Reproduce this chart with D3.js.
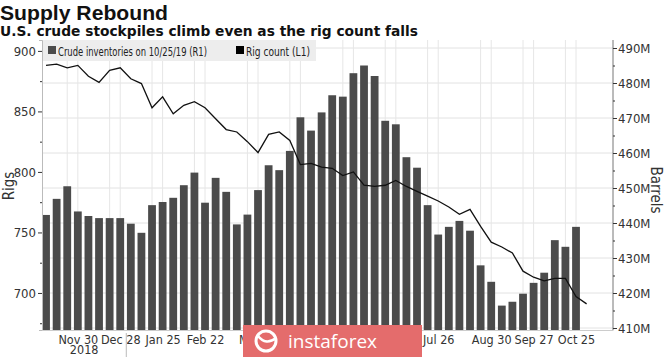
<!DOCTYPE html>
<html><head><meta charset="utf-8">
<script src="https://cdn.jsdelivr.net/npm/d3@7"></script>
<style>body{margin:0;background:#fff}svg{display:block}</style>
</head><body>
<script>
// ---- data ----
const weeks = ["2018-11-09","2018-11-16","2018-11-23","2018-11-30","2018-12-07","2018-12-14","2018-12-21","2018-12-28",
"2019-01-04","2019-01-11","2019-01-18","2019-01-25","2019-02-01","2019-02-08","2019-02-15","2019-02-22",
"2019-03-01","2019-03-08","2019-03-15","2019-03-22","2019-03-29","2019-04-05","2019-04-12","2019-04-19","2019-04-26",
"2019-05-03","2019-05-10","2019-05-17","2019-05-24","2019-05-31","2019-06-07","2019-06-14","2019-06-21","2019-06-28",
"2019-07-05","2019-07-12","2019-07-19","2019-07-26","2019-08-02","2019-08-09","2019-08-16","2019-08-23","2019-08-30",
"2019-09-06","2019-09-13","2019-09-20","2019-09-27","2019-10-04","2019-10-11","2019-10-18","2019-10-25","2019-11-01"];
const inventories = [442.3,446.9,450.5,443.3,442.0,441.4,441.4,441.4,439.8,437.2,445.1,446.0,447.2,450.8,454.4,445.8,
452.9,448.9,439.6,442.4,449.4,456.5,455.1,460.6,470.2,466.4,471.6,476.5,476.1,482.8,485.0,482.0,469.2,468.2,
458.8,455.8,445.1,436.7,438.9,440.6,437.8,427.9,423.2,416.4,417.5,419.8,422.9,425.8,435.1,433.2,438.9];
const rigs = [888,889,886,888,879,874,884,886,877,873,853,862,848,855,858,853,844,835,833,825,816,831,833,826,806,807,
804,803,797,800,789,788,789,793,788,784,780,776,771,765,769,755,742,738,733,718,713,710,712,712,697,691];
const tickDates = ["2018-11-30","2018-12-28","2019-01-25","2019-02-22","2019-03-29","2019-04-26","2019-05-31",
"2019-06-28","2019-07-26","2019-08-30","2019-09-27","2019-10-25"];
const tickLabels = ["Nov 30","Dec 28","Jan 25","Feb 22","Mar 29","Apr 26","May 31","Jun 28","Jul 26","Aug 30","Sep 27","Oct 25"];
const years = ["2018","2019"];
const rigTicks = [700,750,800,850,900];
const barrelTicks = [410,420,430,440,450,460,470,480,490];
const legendLabels = ["Crude inventories on 10/25/19 (R1)","Rig count (L1)"];

// ---- layout ----
const W = 665, H = 357;
const L = 42, R = 613, T = 40, B = 330;
const parse = d3.utcParse("%Y-%m-%d");
const dates = weeks.map(parse);
const wk = 7*864e5;
const x = d3.scaleUtc()
  .domain([new Date(+dates[0] - 0.38*wk), new Date(+dates[0] + 53.49*wk)])
  .range([L, R]);
const yL = d3.scaleLinear().domain([669.4, 909.0]).range([B, T]);
const yR = d3.scaleLinear().domain([409.43, 491.71]).range([B, 48 - (491.71-490)*3.5]);

const svg = d3.select("body").append("svg").attr("width", W).attr("height", H);
const FONT = "'DejaVu Sans Condensed','DejaVu Sans',sans-serif";

// titles
svg.append("text").attr("x", 0).attr("y", 20).text("Supply Rebound")
  .attr("font-family", "'Liberation Sans',Arial,sans-serif").attr("font-weight", "bold")
  .attr("font-size", 21).attr("fill", "#111").attr("textLength", 168).attr("lengthAdjust","spacingAndGlyphs");
svg.append("text").attr("x", 0).attr("y", 36).text("U.S. crude stockpiles climb even as the rig count falls")
  .attr("font-family", "'DejaVu Sans',sans-serif").attr("font-weight", "bold")
  .attr("font-size", 14).attr("fill", "#111").attr("textLength", 418).attr("lengthAdjust","spacingAndGlyphs");

// gridlines
const g = svg.append("g");
g.selectAll("line.h").data(barrelTicks).join("line")
  .attr("x1", L).attr("x2", R).attr("y1", d => yR(d)).attr("y2", d => yR(d))
  .attr("stroke", "#e2e2e2").attr("stroke-width", 1);
const tDates = tickDates.map(parse);
const gridDates = tDates.concat(tDates.map(d => new Date(+d - wk)));
g.selectAll("line.v").data(gridDates).join("line")
  .attr("x1", d => x(d)).attr("x2", d => x(d)).attr("y1", T).attr("y2", B)
  .attr("stroke", "#e6e6e6").attr("stroke-width", 1);

// bars
const bw = 7.8;
svg.append("g").selectAll("rect").data(inventories).join("rect")
  .attr("x", (d, i) => x(dates[i]) - bw/2).attr("width", bw)
  .attr("y", d => yR(d)).attr("height", d => B - yR(d))
  .attr("fill", "#4b4b4b");

// line
svg.append("path").datum(rigs)
  .attr("d", d3.line().x((d, i) => x(dates[i])).y(d => yL(d)))
  .attr("fill", "none").attr("stroke", "#111").attr("stroke-width", 1.3);

// legend
const lg = svg.append("g");
lg.append("rect").attr("x", L).attr("y", T).attr("width", 274).attr("height", 21).attr("fill", "#ededed");
const lx = [48, 236];
const lw = [149, 64];
lg.selectAll("rect.m").data(legendLabels).join("rect")
  .attr("x", (d, i) => lx[i]).attr("y", 46).attr("width", 8).attr("height", 8)
  .attr("fill", (d, i) => i ? "#000" : "#4b4b4b");
lg.selectAll("text").data(legendLabels).join("text")
  .attr("x", (d, i) => lx[i] + 10).attr("y", 55.5).text(d => d)
  .attr("textLength", (d, i) => lw[i]).attr("lengthAdjust", "spacingAndGlyphs")
  .attr("font-family", FONT).attr("font-size", 13).attr("fill", "#222");

// left axis
const axL = d3.axisLeft(yL).tickValues(d3.range(675, 901, 25)).tickSize(3)
  .tickFormat(d => rigTicks.includes(d) ? d : "");
const gl = svg.append("g").attr("transform", `translate(${L},0)`).call(axL);
gl.select(".domain").attr("stroke", "#bbb");
gl.selectAll(".tick line").attr("stroke", "#333").attr("x2", d => rigTicks.includes(d) ? -4 : -2);
gl.selectAll(".tick text").attr("font-family", FONT).attr("font-size", 13).attr("fill", "#333").attr("x", -6);

// right axis
const axR = d3.axisRight(yR).tickValues(d3.range(410, 491, 5)).tickSize(3)
  .tickFormat(d => barrelTicks.includes(d) ? d + "M" : "");
const gr = svg.append("g").attr("transform", `translate(${R},0)`).call(axR);
gr.select(".domain").attr("stroke", "#777").attr("d", `M0,${T}V${B}`);
gr.selectAll(".tick line").attr("stroke", "#333").attr("x2", d => barrelTicks.includes(d) ? 4 : 2);
gr.selectAll(".tick text").attr("font-family", FONT).attr("font-size", 13).attr("fill", "#333").attr("x", 5);

// bottom axis
const axB = d3.axisBottom(x).tickValues(tDates).tickSize(0)
  .tickFormat((d, i) => tickLabels[i]);
const gb = svg.append("g").attr("transform", `translate(0,${B})`).call(axB);
gb.select(".domain").attr("stroke", "#ccc");
gb.selectAll(".tick text").attr("font-family", FONT).attr("font-size", 12.5).attr("fill", "#333").attr("dy", "0.85em");
const yb = parse("2019-01-01");
svg.append("line").attr("x1", x(yb)).attr("x2", x(yb)).attr("y1", B + 3).attr("y2", H)
  .attr("stroke", "#bbb");
const yearPos = [(L + x(yb))/2, (x(yb) + R)/2];
svg.selectAll("text.yr").data(years).join("text").attr("class", "yr")
  .attr("x", (d, i) => yearPos[i]).attr("y", 354).attr("text-anchor", "middle").text(d => d)
  .attr("font-family", FONT).attr("font-size", 12.5).attr("fill", "#333");

// axis titles
svg.append("text").attr("transform", `translate(14,186) rotate(-90)`).attr("text-anchor", "middle")
  .text("Rigs").attr("font-family", FONT).attr("font-size", 15).attr("fill", "#333");
svg.append("text").attr("transform", `translate(651,190) rotate(90)`).attr("text-anchor", "middle")
  .text("Barrels").attr("font-family", FONT).attr("font-size", 15).attr("fill", "#333");

// watermark overlay
const wm = svg.append("g");
wm.append("rect").attr("x", 243).attr("y", 325).attr("width", 179).attr("height", 32).attr("fill", "#e46c6c");
wm.append("circle").attr("cx", 266).attr("cy", 341).attr("r", 10).attr("fill", "none").attr("stroke", "#fff").attr("stroke-width", 3);
wm.append("path").attr("d", "M258,336 Q266,346 276,338").attr("fill", "none").attr("stroke", "#fff").attr("stroke-width", 2.5);
wm.append("text").attr("x", 288).attr("y", 348).text("instaforex")
  .attr("font-family", "'Open Sans',sans-serif").attr("font-size", 19).attr("fill", "#fff");
</script>
</body></html>
